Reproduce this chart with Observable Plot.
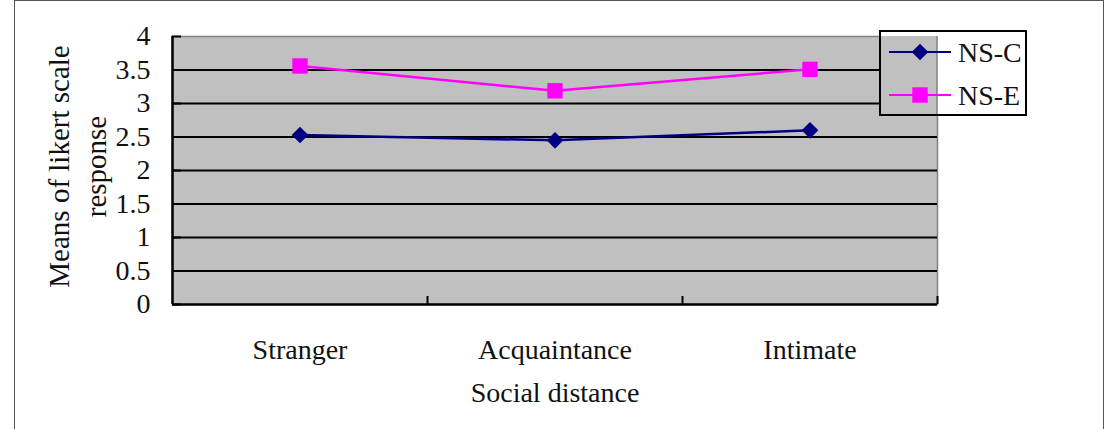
<!DOCTYPE html>
<html>
<head>
<meta charset="utf-8">
<script src="https://cdn.jsdelivr.net/npm/d3@7"></script>
<script src="https://cdn.jsdelivr.net/npm/@observablehq/plot@0.6"></script>
<style>
  html, body { margin: 0; padding: 0; background: #fff; }
  #wrap { position: relative; width: 1110px; height: 429px; overflow: hidden; }
  #border { position: absolute; left: 14px; top: 0px; width: 1088px; height: 440px;
            border: 1.5px solid #555; pointer-events: none; }
  svg text { fill: #111; }
</style>
</head>
<body>
<div id="wrap"><div id="border"></div></div>
<script>
// Social distance categories and mean Likert responses per group
const categories = ["Stranger", "Acquaintance", "Intimate"];
const seriesNames = ["NS-C", "NS-E"];
const nsC = [2.53, 2.45, 2.60];
const nsE = [3.56, 3.19, 3.51];
const yTicks = [0, 0.5, 1, 1.5, 2, 2.5, 3, 3.5, 4];
const gridValues = [0.5, 1, 1.5, 2, 2.5, 3, 3.5];
const yLabel = "Means of likert scale\nresponse";
const xLabel = "Social distance";

const colors = {"NS-C": "#000080", "NS-E": "#ff00ff"};
const symbols = {"NS-C": "diamond2", "NS-E": "square"};
const radii = {"NS-C": 7.5, "NS-E": 8.7};

const seriesRows = {
  "NS-C": categories.map((c, i) => ({series: "NS-C", i, value: nsC[i]})),
  "NS-E": categories.map((c, i) => ({series: "NS-E", i, value: nsE[i]}))
};

const font = "'Liberation Serif', 'Times New Roman', serif";
const fs = 28;
const W = 1110, H = 429;
const mL = 172, mR = 173, mT = 36, mB = 125;

const boundaries = categories.map((_, i) => i + 0.5);

const seriesMarks = seriesNames.flatMap(name => [
  Plot.line(seriesRows[name], {x: "i", y: "value", stroke: colors[name], strokeWidth: 2.5}),
  Plot.dot(seriesRows[name], {x: "i", y: "value", symbol: symbols[name], r: radii[name],
                              fill: colors[name], stroke: "none"})
]);

const plot = Plot.plot({
  width: W,
  height: H,
  marginLeft: mL,
  marginRight: mR,
  marginTop: mT,
  marginBottom: mB,
  style: {fontFamily: font, fontSize: fs + "px", background: "transparent"},
  x: {type: "linear", domain: [-0.5, categories.length - 0.5], axis: null},
  y: {domain: [0, 4], axis: null},
  marks: [
    Plot.frame({fill: "#c0c0c0", stroke: "#808080", strokeWidth: 1.5}),
    Plot.ruleY(gridValues, {stroke: "#000", strokeWidth: 2}),
    // axis lines
    Plot.ruleX([-0.5], {stroke: "#000", strokeWidth: 2.5}),
    Plot.ruleY([0], {stroke: "#000", strokeWidth: 2.5}),
    Plot.axisY({ticks: yTicks, tickSize: -9, tickPadding: 31, strokeWidth: 2, label: null,
                tickFormat: d => String(d), fontSize: fs}),
    Plot.axisX({ticks: boundaries, tickSize: -8, strokeWidth: 2, label: null, tickFormat: () => ""}),
    Plot.axisX({ticks: categories.map((_, i) => i), tickSize: 0, tickPadding: 35, label: null,
                tickFormat: i => categories[i], fontSize: fs}),
    ...seriesMarks,
    // axis titles
    Plot.text([xLabel], {frameAnchor: "bottom", dy: 97, fontSize: fs}),
    Plot.text([yLabel], {frameAnchor: "left", textAnchor: "middle", lineAnchor: "middle",
                         rotate: -90, dx: -97, dy: -4, lineHeight: 1.3, fontSize: 29})
  ]
});
document.getElementById("wrap").prepend(plot);

// Legend drawn over the upper-right corner of the plot area
const svg = d3.select(plot);
const lx = 880, ly = 31, lw = 146, lh = 84;
const plotRight = W - mR, plotTop = mT;
const lg = svg.append("g").attr("class", "legend");
lg.append("rect").attr("x", lx).attr("y", ly).attr("width", lw).attr("height", lh).attr("fill", "#fff");
lg.append("rect").attr("x", lx).attr("y", plotTop)
  .attr("width", plotRight - lx).attr("height", ly + lh - plotTop).attr("fill", "#c0c0c0");
lg.append("line").attr("x1", plotRight).attr("x2", plotRight).attr("y1", plotTop).attr("y2", ly + lh)
  .attr("stroke", "#808080").attr("stroke-width", 1.5);
lg.append("rect").attr("x", lx).attr("y", ly).attr("width", lw).attr("height", lh)
  .attr("fill", "none").attr("stroke", "#000").attr("stroke-width", 2);
const symbolFns = {"diamond2": d3.symbolDiamond2, "square": d3.symbolSquare};
seriesNames.forEach((name, k) => {
  const cy = ly + 21 + k * 43;
  const g = lg.append("g");
  g.append("line").attr("x1", lx + 9).attr("x2", lx + 71).attr("y1", cy).attr("y2", cy)
    .attr("stroke", colors[name]).attr("stroke-width", 2.2);
  g.append("path").attr("transform", `translate(${lx + 40},${cy})`)
    .attr("d", d3.symbol(symbolFns[symbols[name]], Math.PI * radii[name] ** 2)())
    .attr("fill", colors[name]);
  g.append("text").attr("x", lx + 78).attr("y", cy).attr("dy", "0.35em")
    .attr("text-anchor", "start")
    .attr("font-family", font).attr("font-size", fs)
    .attr("fill", "#111").text(name);
});
</script>
</body>
</html>
